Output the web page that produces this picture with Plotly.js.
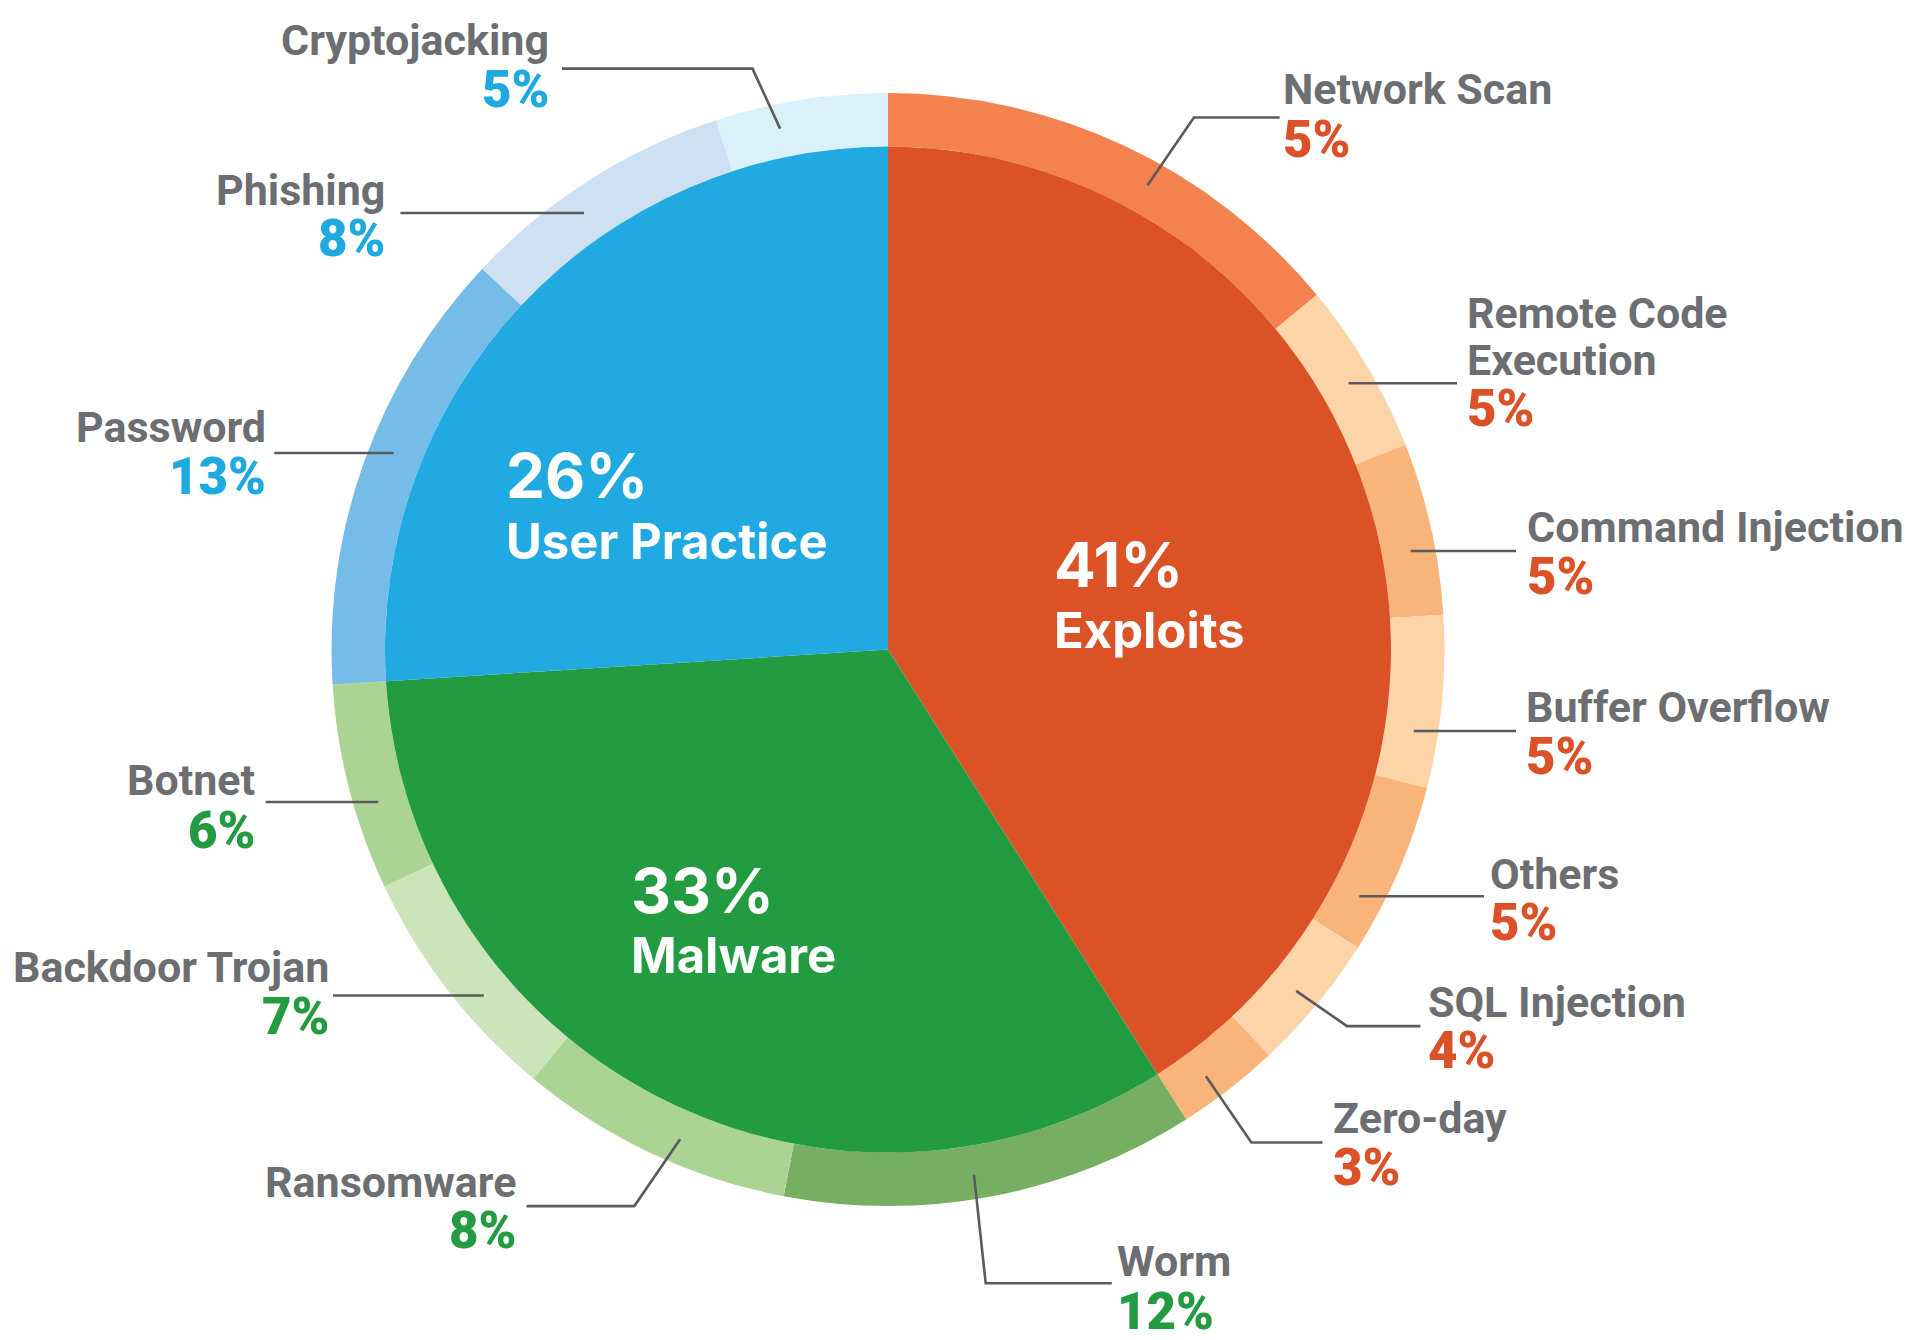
<!DOCTYPE html>
<html>
<head>
<meta charset="utf-8">
<script src="https://cdn.plot.ly/plotly-3.0.1.min.js"></script>
<style>html,body{margin:0;padding:0;background:#fff}#chart{width:1920px;height:1340px}</style>
</head>
<body>
<div id="chart"></div>
<script>
// ---------- data ----------
const categories = ['Exploits', 'Malware', 'User Practice'];
const categoryValues = [41, 33, 26];
const categoryText = ['41%', '33%', '26%'];

const ringLabels = ['Network Scan', 'Remote Code<br>Execution', 'Command Injection', 'Buffer Overflow', 'Others',
  'SQL Injection', 'Zero-day', 'Worm', 'Ransomware', 'Backdoor Trojan', 'Botnet', 'Password', 'Phishing', 'Cryptojacking'];
const ringGroup = ['Exploits', 'Exploits', 'Exploits', 'Exploits', 'Exploits', 'Exploits', 'Exploits',
  'Malware', 'Malware', 'Malware', 'Malware', 'User Practice', 'User Practice', 'User Practice'];
// arc sizes as drawn in the ring
const ringValues = [14, 5, 5, 5, 5, 4, 3, 12, 8, 7, 6, 13, 8, 5];
// percentages as printed next to each label
const ringPrinted = ['5%', '5%', '5%', '5%', '5%', '4%', '3%', '12%', '8%', '7%', '6%', '13%', '8%', '5%'];

// ---------- styles ----------
const innerColors = ['#DB5227', '#229B41', '#21A9E1'];
const ringColors = ['#F4824F', '#FDD3A8', '#F9B47A', '#FDD3A8', '#F9B47A', '#FDD3A8', '#F9B47A',
  '#77AF62', '#ABD494', '#CBE4BA', '#ABD494', '#75BCE8', '#CDE1F3', '#DAF0FA'];
const groupTextColor = {'Exploits': '#DC5228', 'Malware': '#229B41', 'User Practice': '#1FA9E1'};
const nameColor = '#6D6E71';
const lineColor = '#5A5B5D';

// ---------- layout geometry (pixels) ----------
const W = 1920, H = 1340;
const cx = 888, cy = 649.6, rOut = 556.5, rIn = 503, rLead = 532;
// label placement, same order as ring arrays (nudge = leader anchor offset in degrees)
const labelPos = [
  {x: 1284.5, align: 'left',  nameY: 89.4,   pctY: 139.6, lineY: 117.5, endX: 1279.6, elbowX: 1193.9, nudge: 4},
  {x: 1468,   align: 'left',  nameY: 313.5,  pctY: 409,   lineY: 383.3, endX: 1457,   elbowX: null},
  {x: 1528,   align: 'left',  nameY: 526.5,  pctY: 576.7, lineY: 551,   endX: 1516,   elbowX: null},
  {x: 1527,   align: 'left',  nameY: 706.5,  pctY: 756.7, lineY: 731,   endX: 1516,   elbowX: null},
  {x: 1491.4, align: 'left',  nameY: 874.3,  pctY: 922,   lineY: 896.3, endX: 1484,   elbowX: null},
  {x: 1429,   align: 'left',  nameY: 1001.6, pctY: 1050.6,lineY: 1026.1,endX: 1420.4, elbowX: 1347,   nudge: 0.3},
  {x: 1334.7, align: 'left',  nameY: 1118,   pctY: 1167,  lineY: 1142.5,endX: 1322.5, elbowX: 1251.4, nudge: 1.1},
  {x: 1118,   align: 'left',  nameY: 1261.2, pctY: 1311.4,lineY: 1283.3,endX: 1111.8, elbowX: 985.7,  nudge: 1.5},
  {x: 514.3,  align: 'right', nameY: 1181.6, pctY: 1230.6,lineY: 1206.1,endX: 526.5,  elbowX: 634.3,  nudge: -2.2},
  {x: 327,    align: 'right', nameY: 967.4,  pctY: 1016.3,lineY: 995.5, endX: 333,    elbowX: null},
  {x: 253.5,  align: 'right', nameY: 780,    pctY: 830.2, lineY: 802,   endX: 265.7,  elbowX: null},
  {x: 264.5,  align: 'right', nameY: 427.4,  pctY: 476.3, lineY: 453,   endX: 274.3,  elbowX: null},
  {x: 383.3,  align: 'right', nameY: 189.8,  pctY: 238.8, lineY: 213,   endX: 400.4,  elbowX: null},
  {x: 547.4,  align: 'right', nameY: 40.4,   pctY: 89.4,  lineY: 68.6,  endX: 562,    elbowX: 752.5,  nudge: -2.7}
];
const nameLineGap = 46.5;
const innerLabelPos = [
  {x: 1055.5, pctY: 564.5, nameY: 630.6},
  {x: 632,    pctY: 890,   nameY: 955},
  {x: 507,    pctY: 475,   nameY: 541}
];
const padShift = 2.5;

const px = v => v / W;
const py = v => 1 - v / H;

// ---------- traces ----------
const inner = {
  type: 'pie', values: categoryValues, labels: categories, sort: false, direction: 'clockwise', rotation: 0,
  marker: {colors: innerColors, line: {width: 0}}, textinfo: 'none', hoverinfo: 'label+value',
  domain: {x: [px(cx - rIn), px(cx + rIn)], y: [py(cy + rIn), py(cy - rIn)]}
};
const ring = {
  type: 'pie', values: ringValues, labels: ringLabels, sort: false, direction: 'clockwise', rotation: 0,
  hole: rIn / rOut,
  marker: {colors: ringColors, line: {width: 0}}, textinfo: 'none', hoverinfo: 'label+value',
  domain: {x: [px(cx - rOut), px(cx + rOut)], y: [py(cy + rOut), py(cy - rOut)]}
};

// ---------- annotations & leader lines ----------
const annotations = [];
const shapes = [];
const total = ringValues.reduce((a, b) => a + b, 0);
let cum = 0;
ringValues.forEach((v, i) => {
  const L = labelPos[i];
  const mid = 2 * Math.PI * (cum + v / 2) / total + (L.nudge || 0) * Math.PI / 180;
  cum += v;
  let ax, ay;
  if (L.elbowX === null) {
    const side = Math.sin(mid) >= 0 ? 1 : -1;
    ay = L.lineY;
    ax = cx + side * Math.sqrt(rLead * rLead - (ay - cy) * (ay - cy));
  } else {
    ax = cx + rLead * Math.sin(mid);
    ay = cy - rLead * Math.cos(mid);
  }
  let path = `M ${px(ax)} ${py(ay)}`;
  if (L.elbowX !== null) path += ` L ${px(L.elbowX)} ${py(L.lineY)}`;
  path += ` L ${px(L.endX)} ${py(L.lineY)}`;
  shapes.push({type: 'path', xref: 'paper', yref: 'paper', path: path, line: {color: lineColor, width: 2.6}});

  const xShift = L.align === 'left' ? -padShift : padShift;
  ringLabels[i].split('<br>').forEach((t, k) => {
    annotations.push({
      xref: 'paper', yref: 'paper', x: px(L.x + xShift), y: py(L.nameY + k * nameLineGap),
      xanchor: L.align, yanchor: 'middle', showarrow: false, text: t, borderpad: 0,
      font: {family: 'Roboto, Arial, sans-serif', size: 43, color: nameColor, weight: 700}
    });
  });
  annotations.push({
    xref: 'paper', yref: 'paper', x: px(L.x + xShift), y: py(L.pctY),
    xanchor: L.align, yanchor: 'middle', showarrow: false, text: ringPrinted[i], borderpad: 0,
    font: {family: 'Roboto, Arial, sans-serif', size: 51, color: groupTextColor[ringGroup[i]], weight: 900}
  });
});

categories.forEach((c, i) => {
  const P = innerLabelPos[i];
  annotations.push({
    xref: 'paper', yref: 'paper', x: px(P.x - padShift), y: py(P.pctY), xanchor: 'left', yanchor: 'middle',
    showarrow: false, text: categoryText[i], borderpad: 0,
    font: {family: 'Inter, Roboto, sans-serif', size: 62, color: '#FFFFFF', weight: 700}
  });
  annotations.push({
    xref: 'paper', yref: 'paper', x: px(P.x - padShift), y: py(P.nameY), xanchor: 'left', yanchor: 'middle',
    showarrow: false, text: c, borderpad: 0,
    font: {family: 'Inter, Roboto, sans-serif', size: 49, color: '#FFFFFF', weight: 700}
  });
});

const layout = {
  width: W, height: H, margin: {l: 0, r: 0, t: 0, b: 0},
  paper_bgcolor: '#FFFFFF', plot_bgcolor: '#FFFFFF', showlegend: false,
  font: {family: 'Roboto, Arial, sans-serif'},
  annotations: annotations, shapes: shapes
};

Plotly.newPlot('chart', [ring, inner], layout, {displayModeBar: false, staticPlot: true});
</script>
</body>
</html>
